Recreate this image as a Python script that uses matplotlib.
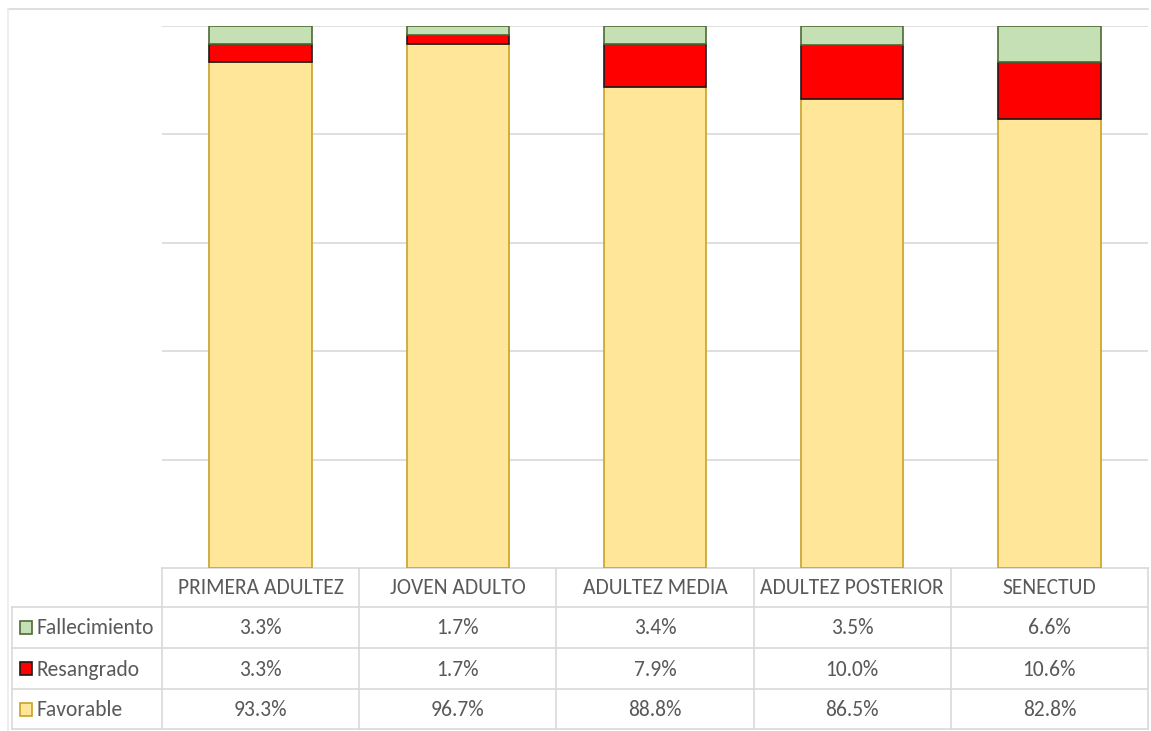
import matplotlib
matplotlib.use("Agg")
import matplotlib.pyplot as plt
from matplotlib.patches import Rectangle

categories = ["PRIMERA ADULTEZ", "JOVEN ADULTO", "ADULTEZ MEDIA", "ADULTEZ POSTERIOR", "SENECTUD"]
series_names = ["Fallecimiento", "Resangrado", "Favorable"]
favorable = [93.3, 96.7, 88.8, 86.5, 82.8]
resangrado = [3.3, 1.7, 7.9, 10.0, 10.6]
fallecimiento = [3.3, 1.7, 3.4, 3.5, 6.6]

fills = {"Favorable": "#FFE699", "Resangrado": "#FF0000", "Fallecimiento": "#C5E0B4"}
edges = {"Favorable": "#C9A227", "Resangrado": "#1a1a1a", "Fallecimiento": "#4E6B35"}

plt.rcParams['font.family'] = ['Carlito', 'DejaVu Sans']
FS = 15.5

W, H = 1151, 731
fig = plt.figure(figsize=(W/100, H/100), dpi=100)

ov = fig.add_axes([0, 0, 1, 1])
ov.set_xlim(0, W)
ov.set_ylim(H, 0)
ov.axis("off")

L, R, T, B = 162, 1148, 26, 568
ax = fig.add_axes([L/W, 1-B/H, (R-L)/W, (B-T)/H])
x = list(range(len(categories)))
totals = [a+b+c for a, b, c in zip(favorable, resangrado, fallecimiento)]
fav_n = [v/t*100 for v, t in zip(favorable, totals)]
res_n = [v/t*100 for v, t in zip(resangrado, totals)]
fal_n = [v/t*100 for v, t in zip(fallecimiento, totals)]
bw = 0.52
ax.bar(x, fav_n, bw, color=fills["Favorable"], edgecolor=edges["Favorable"], linewidth=1.2, zorder=3)
ax.bar(x, res_n, bw, bottom=fav_n, color=fills["Resangrado"], edgecolor=edges["Resangrado"], linewidth=1.2, zorder=3)
ax.bar(x, fal_n, bw, bottom=[a+b for a, b in zip(fav_n, res_n)], color=fills["Fallecimiento"],
       edgecolor=edges["Fallecimiento"], linewidth=1.2, zorder=3)
ax.set_xlim(-0.5, len(categories)-0.5)
ax.set_ylim(0, 100)
ax.set_yticks([0, 20, 40, 60, 80, 100])
ax.yaxis.grid(True, color="#D9D9D9", linewidth=1.2, zorder=0)
ax.set_yticklabels([])
ax.tick_params(length=0)
ax.set_xticks([])
for s in ax.spines.values():
    s.set_visible(False)

# chart border
ov.plot([8, 1148], [9, 9], color="#D9D9D9", lw=1.2)
ov.plot([8, 8], [9, 731], color="#EBEBEB", lw=1.2)

# data table
cell_w = (R - L) / len(categories)
rows_y = [568, 607, 648, 689, 729]
tc = "#D9D9D9"
txt = "#595959"
for i, c in enumerate(categories):
    cx = L + cell_w*(i+0.5)
    ov.text(cx, (rows_y[0]+rows_y[1])/2 + 1, c, ha="center", va="center", fontsize=FS, color=txt)
for i in range(len(categories)+1):
    xx = L + cell_w*i
    ov.plot([xx, xx], [rows_y[0], rows_y[-1]], color=tc, lw=1.2)
ov.plot([12, 12], [rows_y[1], rows_y[-1]], color=tc, lw=1.2)
ov.plot([L, R], [rows_y[0], rows_y[0]], color=tc, lw=1.2)
for yy in rows_y[1:]:
    ov.plot([12, R], [yy, yy], color=tc, lw=1.2)

rows = [("Fallecimiento", fallecimiento), ("Resangrado", resangrado), ("Favorable", favorable)]
for r, (nm, vals) in enumerate(rows):
    cy = (rows_y[r+1] + rows_y[r+2]) / 2
    ov.add_patch(Rectangle((20, cy-6.5), 12, 13, facecolor=fills[nm], edgecolor=edges[nm], lw=1.2))
    ov.text(37, cy + 1, nm, ha="left", va="center", fontsize=FS, color=txt)
    for i, v in enumerate(vals):
        cx = L + cell_w*(i+0.5)
        ov.text(cx, cy + 1, f"{v:.1f}%", ha="center", va="center", fontsize=FS, color=txt)

fig.savefig("out.png", dpi=100, facecolor="white")
